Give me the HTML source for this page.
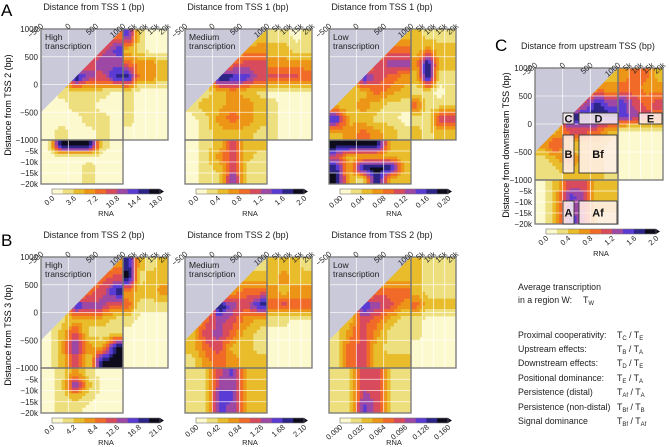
<!DOCTYPE html>
<html><head><meta charset="utf-8">
<style>
html,body{margin:0;padding:0;background:#fff;}
svg{display:block;font-family:"Liberation Sans","DejaVu Sans",sans-serif;}
</style></head>
<body>
<svg id="fig" width="669" height="447" viewBox="0 0 669 447" xmlns="http://www.w3.org/2000/svg">
<text x="1" y="16" font-size="17">A</text>
<text x="1" y="246" font-size="17">B</text>
<text x="495" y="51" font-size="17">C</text>
<text x="11" y="105" font-size="9" text-anchor="middle" transform="rotate(-90 11 105)">Distance from TSS 2 (bp)</text>
<text x="11" y="335" font-size="9" text-anchor="middle" transform="rotate(-90 11 335)">Distance from TSS 3 (bp)</text>
<text x="509" y="145" font-size="9" text-anchor="middle" transform="rotate(-90 509 145)">Distance from downstream TSS (bp)</text>
<g font-size="8.8" fill="#222">
<text x="518" y="290">Average transcription</text>
<text x="518" y="303">in a region W:</text>
<text x="583" y="303">T<tspan font-size="6" dy="2">W</tspan></text>
<text x="518" y="338">Proximal cooperativity:</text><text x="617" y="338">T<tspan font-size="6" dy="2">C</tspan><tspan dy="-2"> / T</tspan><tspan font-size="6" dy="2">E</tspan></text>
<text x="518" y="352">Upstream effects:</text><text x="617" y="352">T<tspan font-size="6" dy="2">B</tspan><tspan dy="-2"> / T</tspan><tspan font-size="6" dy="2">A</tspan></text>
<text x="518" y="366">Downstream effects:</text><text x="617" y="366">T<tspan font-size="6" dy="2">D</tspan><tspan dy="-2"> / T</tspan><tspan font-size="6" dy="2">E</tspan></text>
<text x="518" y="381">Positional dominance:</text><text x="617" y="381">T<tspan font-size="6" dy="2">E</tspan><tspan dy="-2"> / T</tspan><tspan font-size="6" dy="2">A</tspan></text>
<text x="518" y="395">Persistence (distal)</text><text x="617" y="395">T<tspan font-size="6" dy="2">Af</tspan><tspan dy="-2"> / T</tspan><tspan font-size="6" dy="2">A</tspan></text>
<text x="518" y="410">Persistence (non-distal)</text><text x="617" y="410">T<tspan font-size="6" dy="2">Bf</tspan><tspan dy="-2"> / T</tspan><tspan font-size="6" dy="2">B</tspan></text>
<text x="518" y="424">Signal dominance</text><text x="617" y="424">T<tspan font-size="6" dy="2">Bf</tspan><tspan dy="-2"> / T</tspan><tspan font-size="6" dy="2">Af</tspan></text>
</g>
</svg>
<script>
// colour levels (0 = lowest, 9 = highest)
const A1_MAIN=["000034","000457","000566","009658","011110","001100","000110","010010"];
const A1_RIGHT=["7100","2100","4332","8332","1000","1000","1000","0000"];
const A1_BOT=["099910","000000","000100","000100"];
const A2_MAIN=["000012","000233","000455","009875","012321","122332","013432","012221"];
const A2_RIGHT=["1101","2211","3333","5554","0000","1000","1000","1000"];
const A2_BOT=["012522","013521","012511","011711"];
const A3_MAIN=["000022","000244","000566","008543","122432","223211","822110","234321"];
const A3_RIGHT=["2111","2322","3922","2911","1101","4111","1155","2122"];
const A3_BOT=["999922","522222","829992","921922"];
const B1_MAIN=["000023","000345","000458","008664","012221","025111","027329","025199"];
const B1_RIGHT=["8212","9122","3223","4111","1000","0000","0000","0000"];
const B1_BOT=["013100","017200","012100","011000"];
const B2_MAIN=["000011","000222","000344","009658","146532","256421","245221","134322"];
const B2_RIGHT=["2221","2322","3233","4544","1100","0000","0000","0000"];
const B2_BOT=["115722","116622","117722","117622"];
const B3_MAIN=["000022","000222","000444","008653","125421","135311","145211","145222"];
const B3_RIGHT=["2111","2111","2111","4222","1000","1000","0000","0000"];
const B3_BOT=["115511","115511","116511","117511"];
const C_MAIN=["000022","000233","000586","009888","125542","352221","124221","112221"];
const C_RIGHT=["3442","4433","7545","7654","0000","0000","0000","0000"];
const C_BOT=["025522","027622","027522","027611"];
const TOP_TICKS=["\u2212500","0","500","1000"];
const TOP_TICK_VALUES=[-500,0,500,1000];
const DIST_TICKS=["5k","10k","15k","20k"];
const DIST_TICK_VALUES=[5,10,15,20];
const Y_TICKS=["1000","500","0","\u2212500","\u22121000"];
const Y_TICK_VALUES=[1000,500,0,-500,-1000];
const YB_TICKS=["\u22125k","\u221210k","\u221215k","\u221220k"];
const CB_A1=["0.0","3.6","7.2","10.8","14.4","18.0"];
const CB_A2=["0.0","0.4","0.8","1.2","1.6","2.0"];
const CB_A3=["0.00","0.04","0.08","0.12","0.16","0.20"];
const CB_B1=["0.0","4.2","8.4","12.6","16.8","21.0"];
const CB_B2=["0.00","0.42","0.84","1.26","1.68","2.10"];
const CB_B3=["0.000","0.032","0.064","0.096","0.128","0.160"];
const CB_C=["0.0","0.4","0.8","1.2","1.6","2.0"];

const CMAP=['#fdf9cf','#eedf7e','#e8bc2a','#ec9516','#f26a28','#d84b5c','#9c48a4','#5a3bd4','#2c2486','#0e0c1c'];
const NS='http://www.w3.org/2000/svg';
const svg=document.getElementById('fig');
function mk(tag,attrs,parent){const e=document.createElementNS(NS,tag);for(const k in attrs)e.setAttribute(k,attrs[k]);(parent||svg).appendChild(e);return e;}

function drawGrid(grid,x,y,w,h,parent,name){
 const R=grid.length,C=grid[0].length,N=4;
 const val=(r,c)=>+grid[Math.max(0,Math.min(R-1,r))][Math.max(0,Math.min(C-1,c))];
 const cw=w/C,ch=h/R;
 for(let j=0;j<R*N;j++){for(let i=0;i<C*N;i++){
  const u=(i+0.5)/N-0.5,v=(j+0.5)/N-0.5;
  const c0=Math.floor(u),r0=Math.floor(v),fu=u-c0,fv=v-r0;
  const val2=val(r0,c0)*(1-fu)*(1-fv)+val(r0,c0+1)*fu*(1-fv)+val(r0+1,c0)*(1-fu)*fv+val(r0+1,c0+1)*fu*fv;
  const lvl=Math.max(0,Math.min(9,Math.round(val2)));
  if(lvl===0)continue;
  const e=mk('rect',{x:x+i*cw/N,y:y+j*ch/N,width:cw/N+0.4,height:ch/N+0.4,fill:CMAP[lvl]},parent);
  
  
 }}
}

const panels=[
 {id:'a1',x0:41,y0:29,w:82,h:111,rw:45,bh:44,main:A1_MAIN,right:A1_RIGHT,bot:A1_BOT,cb:CB_A1,label:'High',title:'Distance from TSS 1 (bp)',yt:true},
 {id:'a2',x0:185,y0:29,w:82,h:111,rw:45,bh:44,main:A2_MAIN,right:A2_RIGHT,bot:A2_BOT,cb:CB_A2,label:'Medium',title:'Distance from TSS 1 (bp)'},
 {id:'a3',x0:329,y0:29,w:82,h:111,rw:45,bh:44,main:A3_MAIN,right:A3_RIGHT,bot:A3_BOT,cb:CB_A3,label:'Low',title:'Distance from TSS 1 (bp)'},
 {id:'b1',x0:41,y0:257,w:82,h:111,rw:45,bh:45,main:B1_MAIN,right:B1_RIGHT,bot:B1_BOT,cb:CB_B1,label:'High',title:'Distance from TSS 2 (bp)',yt:true},
 {id:'b2',x0:185,y0:257,w:82,h:111,rw:45,bh:45,main:B2_MAIN,right:B2_RIGHT,bot:B2_BOT,cb:CB_B2,label:'Medium',title:'Distance from TSS 2 (bp)'},
 {id:'b3',x0:329,y0:257,w:82,h:111,rw:45,bh:45,main:B3_MAIN,right:B3_RIGHT,bot:B3_BOT,cb:CB_B3,label:'Low',title:'Distance from TSS 2 (bp)'},
 {id:'c',x0:535,y0:68,w:83,h:112,rw:45,bh:44,main:C_MAIN,right:C_RIGHT,bot:C_BOT,cb:CB_C,label:null,title:'Distance from upstream TSS (bp)',yt:true}
];

panels.forEach(p=>{
 const xM=bp=>p.x0+(bp+500)/1500*p.w;
 const yM=bp=>p.y0+(1000-bp)/2000*p.h;
 const xR=k=>p.x0+p.w+k/20*p.rw;
 const yB=k=>p.y0+p.h+k/20*p.bh;
 const g=mk('g',{});
 
 
 const cp=mk('clipPath',{id:'clip-'+p.id},g);
 mk('rect',{x:xM(-500),y:yM(1000),width:p.w+p.rw,height:p.h},cp);
 mk('rect',{x:xM(-500),y:yM(-1000),width:p.w,height:p.bh},cp);
 const clipG=mk('g',{'clip-path':'url(#clip-'+p.id+')'},g);
 mk('rect',{x:xM(-500),y:yM(1000),width:p.w+p.rw,height:p.h+p.bh,fill:CMAP[0]},clipG);
 drawGrid(p.main,xM(-500),yM(1000),xM(1000)-xM(-500),yM(-1000)-yM(1000),clipG,'heatmap-cell');
 drawGrid(p.right,xR(0),yM(1000),xR(20)-xR(0),yM(-1000)-yM(1000),clipG,'heatmap-cell-distal');
 drawGrid(p.bot,xM(-500),yB(0),xM(1000)-xM(-500),yB(20)-yB(0),clipG,'heatmap-cell-distal');
 const tri=mk('polygon',{points:`${xM(-500)},${yM(1000)} ${xM(1000)},${yM(1000)} ${xM(-500)},${yM(-500)}`,fill:'#c9c9d9'},clipG);
 
 
 const gl={stroke:'#ffffff','stroke-width':0.8,opacity:0.85};
 [0,500].forEach(v=>mk('line',Object.assign({x1:xM(v),x2:xM(v),y1:yM(1000),y2:yB(20)},gl),clipG));
 [500,0,-500].forEach(v=>mk('line',Object.assign({x1:xM(-500),x2:xR(20),y1:yM(v),y2:yM(v)},gl),clipG));
 [5,10,15].forEach(k=>{mk('line',Object.assign({x1:xR(k),x2:xR(k),y1:yM(1000),y2:yM(-1000)},gl),clipG);
  mk('line',Object.assign({x1:xM(-500),x2:xM(1000),y1:yB(k),y2:yB(k)},gl),clipG);});
 const fr={fill:'none',stroke:'#777','stroke-width':1.3};
 mk('rect',Object.assign({x:xM(-500),y:yM(1000),width:p.w,height:p.h},fr),g);
 mk('rect',Object.assign({x:xR(0),y:yM(1000),width:p.rw,height:p.h},fr),g);
 mk('rect',Object.assign({x:xM(-500),y:yB(0),width:p.w,height:p.bh},fr),g);
 const tg=mk('g',{'font-size':7.8,fill:'#222'});
 
 
 TOP_TICK_VALUES.forEach((v,i)=>{const x=xM(v),y=p.y0-2;mk('text',{x:x+3,y:y,'text-anchor':'end',transform:`rotate(-40 ${x+3} ${y})`},tg).textContent=TOP_TICKS[i];});
 DIST_TICK_VALUES.forEach((v,i)=>{const x=xR(v),y=p.y0-2;mk('text',{x:x+3,y:y,'text-anchor':'end',transform:`rotate(-40 ${x+3} ${y})`},tg).textContent=DIST_TICKS[i];});
 const t=mk('text',{x:p.x0+53,y:p.y0-19,'font-size':9,'text-anchor':'middle',fill:'#222'});
 t.textContent=p.title;
 
 
 if(p.yt){
  const yg=mk('g',{'font-size':8,fill:'#222','text-anchor':'end'});
  
  
  Y_TICK_VALUES.forEach((v,i)=>{mk('text',{x:p.x0-3,y:yM(v)+3},yg).textContent=Y_TICKS[i];});
  DIST_TICK_VALUES.forEach((v,i)=>{mk('text',{x:p.x0-3,y:yB(v)+3},yg).textContent=YB_TICKS[i];});
 }
 if(p.label){
  const lt=mk('text',{x:p.x0+4,y:p.y0+11,'font-size':8.5,fill:'#222'});
  
  
  mk('tspan',{x:p.x0+4},lt).textContent=p.label;
  mk('tspan',{x:p.x0+4,dy:9},lt).textContent='transcription';
 }
 const cbx=p.x0+11,cby=p.y0+p.h+p.bh+5,cbw=p.id==='c'?110:108,cbh=5;
 const cg=mk('g',{});
 
 
 CMAP.forEach((c,i)=>mk('rect',{x:cbx+i*cbw/10,y:cby,width:cbw/10+0.3,height:cbh,fill:c},cg));
 mk('polygon',{points:`${cbx+cbw},${cby} ${cbx+cbw+4},${cby+cbh/2} ${cbx+cbw},${cby+cbh}`,fill:CMAP[9]},cg);
 mk('rect',{x:cbx,y:cby,width:cbw,height:cbh,fill:'none',stroke:'#777','stroke-width':0.6},cg);
 p.cb.forEach((lab,i)=>{const x=cbx+i*cbw/5+3,y=cby+10;mk('text',{x:x,y:y,'font-size':7.5,'text-anchor':'end',fill:'#222',transform:`rotate(-40 ${x} ${y})`},cg).textContent=lab;});
 mk('text',{x:cbx+cbw/2,y:cby+27,'font-size':7.5,'text-anchor':'middle',fill:'#222'},cg).textContent='RNA';
});

const BOXES=[['C',563,113,11,11],['D',579,113,39,11],['E',639,113,23,11],['B',563,135,11,38],['Bf',579,135,38,38],['A',563,201,11,23],['Af',579,201,38,23]];
BOXES.forEach(b=>{
 const r=mk('rect',{x:b[1],y:b[2],width:b[3],height:b[4],fill:'rgba(255,242,240,0.85)',stroke:'#333','stroke-width':0.9});
 
 
 const t=mk('text',{x:b[1]+b[3]/2,y:b[2]+b[4]/2+4,'font-size':11,'font-weight':'bold','text-anchor':'middle',fill:'#111'});
 t.textContent=b[0];
 
 
});
</script>
</body></html>
